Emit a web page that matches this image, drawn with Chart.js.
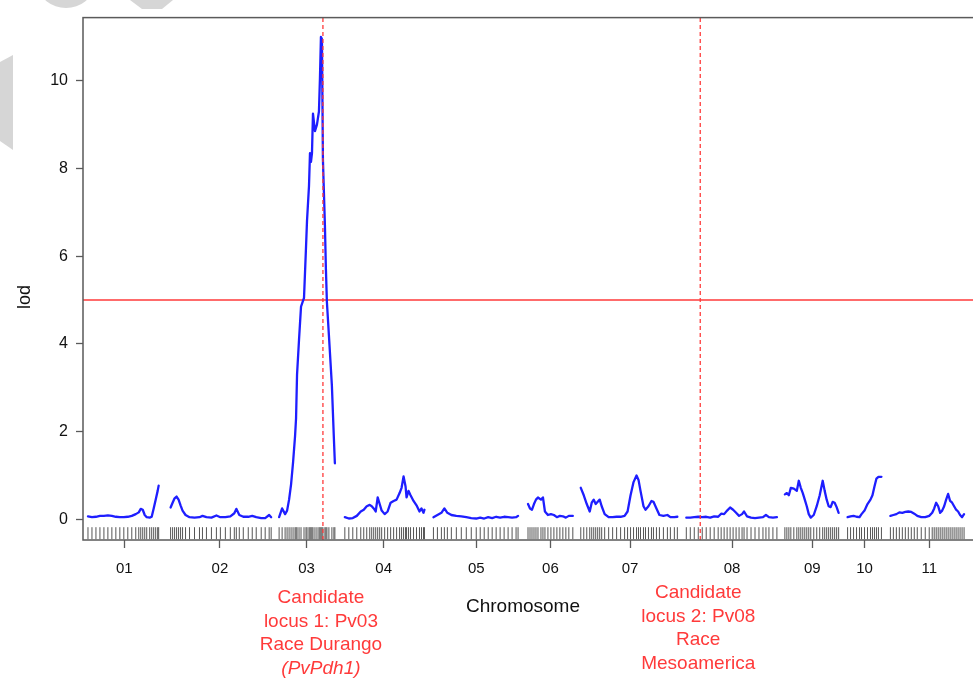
<!DOCTYPE html>
<html><head><meta charset="utf-8">
<script src="https://cdn.jsdelivr.net/npm/chart.js@4.4.1/dist/chart.umd.min.js"></script>
<style>
html,body{margin:0;padding:0;background:#fff;overflow:hidden;width:973px;height:678px;}
#wrap{position:absolute;left:0;top:0;width:986px;height:678px;}
</style></head><body>
<div id="wrap"><canvas id="c" width="986" height="678"></canvas></div>
<script>
// ---- data ----
const chromNames = ['01','02','03','04','05','06','07','08','09','10','11'];
const chromLengths = [75,103,57,84,88,47,99,92,55,36,80];   // cM
const chromGap = 7;
const mapStart = 4;

const pos01 = [1,5,9,13,17,21,25,29,33,37,41,45,49,52,54,56,58,60,63,65,67,69,71,72];
const lod01 = [0.07,0.05,0.06,0.08,0.08,0.09,0.08,0.06,0.05,0.05,0.06,0.08,0.12,0.16,0.24,0.22,0.1,0.05,0.04,0.06,0.25,0.45,0.65,0.77];
const pos02 = [2,4,6,8,10,12,14,17,21,26,31,34,38,43,48,52,57,62,66,68,71,75,80,84,88,93,97,101,103];
const lod02 = [0.27,0.38,0.48,0.52,0.45,0.32,0.2,0.1,0.05,0.04,0.05,0.08,0.05,0.04,0.09,0.05,0.05,0.07,0.14,0.24,0.1,0.06,0.06,0.08,0.05,0.03,0.03,0.1,0.05];
const pos03 = [1,4,7,9,11,13,15,17,18,19,21,23,26,28,29,31,32,33,34,35,37,39,41,42,43,44,45,47,48,49,51,54,56,57];
const lod03 = [0.05,0.25,0.12,0.2,0.45,0.8,1.3,1.9,2.3,3.3,4.1,4.85,5.05,6.2,6.8,7.6,8.35,8.15,8.35,9.25,8.85,9.0,9.3,10.05,11.0,10.95,8.2,6.7,5.7,4.95,4.2,3.05,1.85,1.28];
const pos04 = [3,7,11,15,19,22,25,28,30,32,34,36,38,40,43,46,49,52,55,58,60,62,64,65,67,69,72,75,78,80,82,83];
const lod04 = [0.05,0.02,0.03,0.08,0.18,0.22,0.3,0.33,0.3,0.25,0.18,0.5,0.35,0.2,0.12,0.18,0.38,0.42,0.45,0.6,0.72,0.98,0.75,0.5,0.65,0.55,0.42,0.32,0.18,0.25,0.15,0.22];
const pos05 = [1,5,9,12,15,19,24,29,34,39,44,48,52,56,60,64,68,72,76,80,84,86];
const lod05 = [0.05,0.1,0.15,0.25,0.15,0.1,0.08,0.07,0.05,0.03,0.02,0.04,0.02,0.05,0.03,0.06,0.04,0.06,0.05,0.04,0.05,0.08];
const pos06 = [1,3,5,7,9,11,14,16,18,21,24,27,30,33,36,39,42,46];
const lod06 = [0.35,0.25,0.22,0.35,0.45,0.5,0.45,0.5,0.18,0.1,0.12,0.1,0.05,0.08,0.07,0.04,0.08,0.08];
const pos07 = [0,3,6,9,11,13,15,17,19,21,24,28,32,36,40,44,47,50,53,56,58,60,63,65,68,71,73,76,79,83,87,90,94,97];
const lod07 = [0.72,0.55,0.35,0.18,0.38,0.45,0.35,0.4,0.45,0.3,0.12,0.05,0.05,0.06,0.06,0.08,0.18,0.55,0.85,1.0,0.9,0.65,0.3,0.22,0.3,0.42,0.4,0.25,0.1,0.08,0.1,0.05,0.05,0.06];
const pos08 = [0,4,8,12,16,20,24,28,32,35,38,41,44,47,50,53,56,58,61,65,69,73,77,80,83,87,91];
const lod08 = [0.04,0.04,0.05,0.06,0.05,0.06,0.04,0.07,0.06,0.13,0.12,0.2,0.27,0.22,0.15,0.08,0.12,0.18,0.07,0.04,0.03,0.04,0.05,0.1,0.05,0.04,0.05];
const pos09 = [0,2,4,6,9,12,14,16,18,20,22,24,26,29,32,35,38,40,42,44,46,48,50,52,54];
const lod09 = [0.57,0.6,0.55,0.72,0.7,0.65,0.88,0.72,0.6,0.45,0.3,0.12,0.04,0.1,0.3,0.55,0.88,0.65,0.45,0.3,0.28,0.4,0.38,0.28,0.15];
const pos10 = [1,4,7,10,13,15,18,21,24,26,28,30,32,35];
const lod10 = [0.05,0.07,0.08,0.06,0.05,0.12,0.2,0.35,0.45,0.55,0.75,0.93,0.97,0.97];
const pos11 = [1,4,7,10,13,16,19,22,25,28,32,36,40,43,45,47,49,51,53,55,57,59,61,63,65,67,69,71,73,75];
const lod11 = [0.08,0.1,0.12,0.16,0.15,0.17,0.18,0.17,0.13,0.08,0.05,0.05,0.08,0.15,0.25,0.38,0.3,0.15,0.2,0.3,0.45,0.58,0.42,0.38,0.3,0.22,0.18,0.1,0.05,0.12];

const lodThreshold = 5.0;
const candidateChroms = ['03','08'];
const candidatePos = [45, 14];
const candidateLabels = [
  ['Candidate','locus 1: Pv03','Race Durango','(PvPdh1)'],
  ['Candidate','locus 2: Pv08','Race','Mesoamerica']
];
const yTicks = [0,2,4,6,8,10];
const yMin = -0.47, yMax = 11.44;

// ---- build ----
const allPos = [pos01,pos02,pos03,pos04,pos05,pos06,pos07,pos08,pos09,pos10,pos11];
const allLod = [lod01,lod02,lod03,lod04,lod05,lod06,lod07,lod08,lod09,lod10,lod11];
const offsets = [];
let acc = mapStart;
chromLengths.forEach(l => { offsets.push(acc); acc += l + chromGap; });
const xMax = 900;
const mids = offsets.map((o,i) => o + chromLengths[i]/2);

const BLUE = '#1e1eff', RED = '#ff3a3a', FRAME = '#5a5a5a';
const datasets = [];
// candidate dashed lines (on top)
candidateChroms.forEach((c,i) => {
  const gx = offsets[chromNames.indexOf(c)] + candidatePos[i];
  datasets.push({type:'line', data:[{x:gx,y:yMin},{x:gx,y:yMax}], borderColor:RED, borderWidth:1.3,
    borderDash:[4,3], pointRadius:0, order:0});
});
allPos.forEach((p,i) => {
  datasets.push({type:'line', data:p.map((v,j)=>({x:offsets[i]+v, y:allLod[i][j]})),
    borderColor:BLUE, borderWidth:2.3, pointRadius:0, tension:0,
    borderJoinStyle:'round', borderCapStyle:'round', order:1});
});
datasets.push({type:'line', data:[{x:0,y:lodThreshold},{x:xMax,y:lodThreshold}], borderColor:RED,
  borderWidth:1.5, pointRadius:0, order:2});
// marker rug
const rug = [];
allPos.forEach((p,i) => p.forEach(v => rug.push({x:offsets[i]+v, y:-0.315})));
datasets.push({type:'scatter', data:rug, pointStyle:'line', rotation:90, pointRadius:6,
  borderColor:'#555', borderWidth:1, backgroundColor:'#555', order:3});

const framePlugin = {
  id:'frame',
  beforeDraw(chart){
    const ctx = chart.ctx;
    ctx.save();
    ctx.fillStyle = '#fff';
    ctx.fillRect(0,0,chart.width,chart.height);
    // faint watermark fragments
    ctx.fillStyle = '#d6d6d6';
    ctx.beginPath(); ctx.moveTo(0,62); ctx.lineTo(13,55); ctx.lineTo(13,150); ctx.lineTo(0,141); ctx.closePath(); ctx.fill();
    ctx.beginPath(); ctx.ellipse(66,-14,27,22,0,0,Math.PI); ctx.fill();
    ctx.beginPath(); ctx.moveTo(130,0); ctx.lineTo(173,0); ctx.lineTo(162,9); ctx.lineTo(142,9); ctx.closePath(); ctx.fill();
    ctx.restore();
  },
  afterDraw(chart){
    const {ctx, chartArea:a} = chart;
    ctx.save();
    ctx.strokeStyle = FRAME; ctx.lineWidth = 1.5;
    ctx.strokeRect(a.left, a.top, a.right-a.left, a.bottom-a.top);
    // axis titles
    ctx.fillStyle = '#111';
    ctx.textAlign = 'center'; ctx.textBaseline = 'middle';
    ctx.font = '19px "Liberation Sans", Arial, sans-serif';
    ctx.fillText('Chromosome', 523, 607);
    ctx.save();
    ctx.translate(25, 297); ctx.rotate(-Math.PI/2);
    ctx.font = '18px "Liberation Sans", Arial, sans-serif';
    ctx.fillText('lod', 0, 0);
    ctx.restore();
    // candidate annotations
    const xs = chart.scales.x;
    const tops = [598, 593];
    ctx.fillStyle = RED;
    candidateChroms.forEach((c,i) => {
      const gx = offsets[chromNames.indexOf(c)] + candidatePos[i];
      const px = xs.getPixelForValue(gx) - 2;
      candidateLabels[i].forEach((t,k) => {
        const italic = t.startsWith('(');
        ctx.font = (italic ? 'italic ' : '') + '19px "Liberation Sans", Arial, sans-serif';
        ctx.fillText(t, px, tops[i] + k*23.5);
      });
    });
    ctx.restore();
  }
};

new Chart(document.getElementById('c'), {
  data:{datasets},
  options:{
    responsive:false, animation:false, devicePixelRatio:1,
    layout:{padding:{top:12, right:3, left:0, bottom:0}},
    plugins:{legend:{display:false}, tooltip:{enabled:false}},
    scales:{
      x:{type:'linear', min:0, max:xMax,
        afterBuildTicks(s){ s.ticks = mids.map(v=>({value:v})); },
        afterFit(s){ s.height = 138; },
        grid:{drawOnChartArea:false, drawTicks:true, tickLength:8, tickColor:FRAME, tickWidth:1.3},
        border:{display:false},
        ticks:{autoSkip:false, maxRotation:0, padding:12, color:'#111',
          font:{family:'"Liberation Sans", Arial, sans-serif', size:15},
          callback:(v,i)=>chromNames[i]}
      },
      y:{type:'linear', min:yMin, max:yMax,
        afterBuildTicks(s){ s.ticks = yTicks.map(v=>({value:v})); },
        afterFit(s){ s.width = 83; },
        grid:{drawOnChartArea:false, drawTicks:true, tickLength:7, tickColor:FRAME, tickWidth:1.3},
        border:{display:false},
        ticks:{padding:8, color:'#111', font:{family:'"Liberation Sans", Arial, sans-serif', size:16}}
      }
    }
  },
  plugins:[framePlugin]
});
</script>
</body></html>
